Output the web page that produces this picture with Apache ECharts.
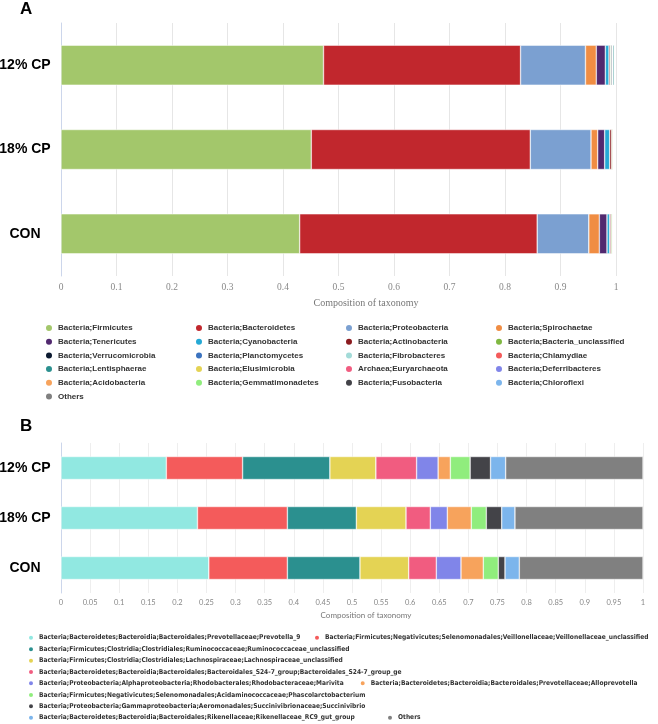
<!DOCTYPE html>
<html><head><meta charset="utf-8">
<script src="https://cdn.jsdelivr.net/npm/echarts@6/dist/echarts.min.js"></script>
<style>html,body{margin:0;padding:0;background:#fff}#c{width:658px;height:724px}</style>
</head><body><div id="c"></div>
<script>
// ---------- data ----------
const groups = ['12% CP', '18% CP', 'CON'];

const phylumNames = [
  'Bacteria;Firmicutes', 'Bacteria;Bacteroidetes', 'Bacteria;Proteobacteria', 'Bacteria;Spirochaetae',
  'Bacteria;Tenericutes', 'Bacteria;Cyanobacteria', 'Bacteria;Actinobacteria', 'Bacteria;Bacteria_unclassified',
  'Bacteria;Verrucomicrobia', 'Bacteria;Planctomycetes', 'Bacteria;Fibrobacteres', 'Bacteria;Chlamydiae',
  'Bacteria;Lentisphaerae', 'Bacteria;Elusimicrobia', 'Archaea;Euryarchaeota', 'Bacteria;Deferribacteres',
  'Bacteria;Acidobacteria', 'Bacteria;Gemmatimonadetes', 'Bacteria;Fusobacteria', 'Bacteria;Chloroflexi',
  'Others'
];
const phylumCP12 = [0.473, 0.355, 0.117, 0.0195, 0.0163, 0.0066, 0.0022, 0.0015, 0.0020, 0.0006, 0.0005, 0.0003, 0.0025, 0.0003, 0.0004, 0.0002, 0.0002, 0.0002, 0.0002, 0.0002, 0.0003];
const phylumCP18 = [0.451, 0.3946, 0.1094, 0.012, 0.0126, 0.009, 0.0036, 0.0022, 0.0004, 0.0003, 0.0002, 0.0002, 0.0003, 0.0001, 0.0002, 0.0001, 0.0001, 0.0001, 0.0001, 0.0001, 0.0002];
const phylumCON  = [0.430, 0.428, 0.093, 0.019, 0.0138, 0.0048, 0.0022, 0.002, 0.0012, 0.0003, 0.0002, 0.0002, 0.0004, 0.0001, 0.0002, 0.0001, 0.0001, 0.0001, 0.0001, 0.0001, 0.0002];

const genusNames = [
  'Bacteria;Bacteroidetes;Bacteroidia;Bacteroidales;Prevotellaceae;Prevotella_9',
  'Bacteria;Firmicutes;Negativicutes;Selenomonadales;Veillonellaceae;Veillonellaceae_unclassified',
  'Bacteria;Firmicutes;Clostridia;Clostridiales;Ruminococcaceae;Ruminococcaceae_unclassified',
  'Bacteria;Firmicutes;Clostridia;Clostridiales;Lachnospiraceae;Lachnospiraceae_unclassified',
  'Bacteria;Bacteroidetes;Bacteroidia;Bacteroidales;Bacteroidales_S24-7_group;Bacteroidales_S24-7_group_ge',
  'Bacteria;Proteobacteria;Alphaproteobacteria;Rhodobacterales;Rhodobacteraceae;Marivita',
  'Bacteria;Bacteroidetes;Bacteroidia;Bacteroidales;Prevotellaceae;Alloprevotella',
  'Bacteria;Firmicutes;Negativicutes;Selenomonadales;Acidaminococcaceae;Phascolarctobacterium',
  'Bacteria;Proteobacteria;Gammaproteobacteria;Aeromonadales;Succinivibrionaceae;Succinivibrio',
  'Bacteria;Bacteroidetes;Bacteroidia;Bacteroidales;Rikenellaceae;Rikenellaceae_RC9_gut_group',
  'Others'
];
const genusCP12 = [0.181, 0.131, 0.150, 0.079, 0.070, 0.037, 0.021, 0.034, 0.035, 0.026, 0.236];
const genusCP18 = [0.2345, 0.1545, 0.1185, 0.0853, 0.0418, 0.0292, 0.0412, 0.0258, 0.0264, 0.0228, 0.220];
const genusCON  = [0.254, 0.135, 0.1247, 0.0837, 0.0475, 0.0424, 0.0383, 0.0258, 0.0115, 0.0246, 0.2125];

// ---------- styles ----------
const phylumColors = ['#a3c76b', '#c1272d', '#7ba0d1', '#f08d43', '#51296f', '#25a9d5', '#8b1b1f', '#80b842',
  '#0c1a30', '#3b73bf', '#a3dbd8', '#f45b5b', '#2b908f', '#e4d354', '#f15c80', '#8085e9',
  '#f7a35c', '#90ed7d', '#434348', '#7cb5ec', '#808080'];
const genusColors = ['#91e8e1', '#f45b5b', '#2b908f', '#e4d354', '#f15c80', '#8085e9', '#f7a35c', '#90ed7d', '#434348', '#7cb5ec', '#808080'];

// legend B layout
const genusLegendLeft = [27, 313, 27, 27, 27, 27, 358.7, 27, 27, 27, 386];
const genusLegendRow = [0, 0, 1, 2, 3, 4, 4, 5, 6, 7, 7];
const genusRowCenters = [637.7, 649.3, 660.7, 672, 683.3, 695, 706.3, 717.7];

const chart = echarts.init(document.getElementById('c'), null, {renderer: 'canvas'});

const series = [];
phylumNames.forEach((n, i) => {
  series.push({
    type: 'bar', name: n, stack: 'A', xAxisIndex: 0, yAxisIndex: 0, barWidth: 40,
    data: [phylumCP12[i], phylumCP18[i], phylumCON[i]],
    itemStyle: {color: phylumColors[i], borderColor: '#fff', borderWidth: 0.5},
    emphasis: {disabled: true}
  });
});
genusNames.forEach((n, i) => {
  series.push({
    type: 'bar', name: n, stack: 'B', xAxisIndex: 1, yAxisIndex: 1, barWidth: 23,
    data: [genusCP12[i], genusCP18[i], genusCON[i]],
    itemStyle: {color: genusColors[i], borderColor: '#fff', borderWidth: 0.5},
    emphasis: {disabled: true}
  });
});

const legends = [];
for (let c = 0; c < 4; c++) {
  legends.push({
    orient: 'vertical', left: 44 + 150 * c, top: 323, padding: 0,
    icon: 'circle', itemWidth: 8, itemHeight: 8, itemGap: 3.7,
    selectedMode: false,
    textStyle: {fontSize: 8, fontWeight: 'bold', fontFamily: 'Liberation Sans, Arial, sans-serif', color: '#333', lineHeight: 10},
    data: phylumNames.filter((_, i) => i % 4 === c)
  });
}
genusNames.forEach((n, i) => {
  legends.push({
    orient: 'horizontal', left: genusLegendLeft[i], top: genusRowCenters[genusLegendRow[i]] - 5, padding: 0,
    icon: 'circle', itemWidth: 6, itemHeight: 6, selectedMode: false,
    textStyle: {fontSize: 6.6, fontWeight: 'bold', fontFamily: 'Liberation Sans Narrow, DejaVu Sans Condensed, Arial Narrow, sans-serif', color: '#333', lineHeight: 10},
    data: [n]
  });
});

const catLabel = {
  fontSize: 14, fontWeight: 'bold', color: '#000', fontFamily: 'Liberation Sans, Arial, sans-serif',
  align: 'center', margin: 36
};

chart.setOption({
  animation: false,
  backgroundColor: '#fff',
  title: [
    {text: 'A', left: 20, top: 1, padding: 0, textStyle: {fontSize: 17, fontWeight: 'bold', color: '#000', fontFamily: 'Liberation Sans, Arial, sans-serif'}},
    {text: 'B', left: 20, top: 417.5, padding: 0, textStyle: {fontSize: 17, fontWeight: 'bold', color: '#000', fontFamily: 'Liberation Sans, Arial, sans-serif'}}
  ],
  grid: [
    {left: 61, top: 23, width: 555, height: 253, containLabel: false, outerBoundsMode: 'none'},
    {left: 61, top: 443, width: 582, height: 150, containLabel: false, outerBoundsMode: 'none'}
  ],
  xAxis: [
    {
      type: 'value', gridIndex: 0, min: 0, max: 1, interval: 0.1,
      axisLine: {show: false}, axisTick: {show: false},
      splitLine: {lineStyle: {color: '#e6e6e6', width: 1}},
      axisLabel: {fontSize: 9.5, color: '#888', fontFamily: 'Liberation Serif, Times New Roman, serif', margin: 6},
      name: 'Composition of taxonomy', nameLocation: 'middle', nameGap: 22,
      nameTextStyle: {fontSize: 10, color: '#777', fontFamily: 'Liberation Serif, Times New Roman, serif', padding: [0, 0, 0, 55]}
    },
    {
      type: 'value', gridIndex: 1, min: 0, max: 1, interval: 0.05,
      axisLine: {show: false}, axisTick: {show: false},
      splitLine: {lineStyle: {color: '#eeeeee', width: 1}},
      axisLabel: {fontSize: 7.5, color: '#888', fontFamily: 'Lato, Open Sans, sans-serif', margin: 6},
      name: 'Composition of taxonomy', nameLocation: 'middle', nameGap: 18.5,
      nameTextStyle: {fontSize: 8, color: '#777', fontFamily: 'Lato, Open Sans, sans-serif', padding: [0, 0, 0, 28]}
    }
  ],
  yAxis: [
    {
      type: 'category', gridIndex: 0, data: groups, inverse: true,
      axisLine: {lineStyle: {color: '#ccd6eb'}},
      axisTick: {length: 8, lineStyle: {color: '#ccd6eb'}},
      axisLabel: catLabel, splitLine: {show: false}
    },
    {
      type: 'category', gridIndex: 1, data: groups, inverse: true,
      axisLine: {lineStyle: {color: '#ccd6eb'}},
      axisTick: {length: 8, lineStyle: {color: '#ccd6eb'}},
      axisLabel: catLabel, splitLine: {show: false}
    }
  ],
  legend: legends,
  series: series
});
</script>
</body></html>
